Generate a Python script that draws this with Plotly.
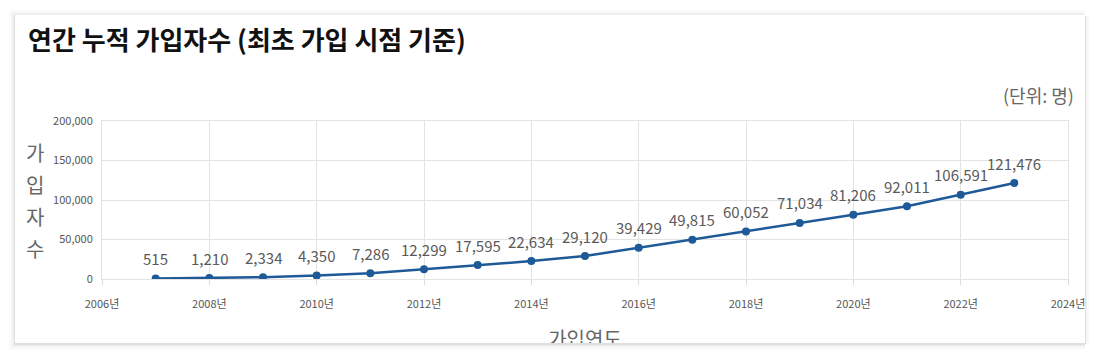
import plotly.graph_objects as go

# ---- data ----
years = [2007, 2008, 2009, 2010, 2011, 2012, 2013, 2014, 2015, 2016,
         2017, 2018, 2019, 2020, 2021, 2022, 2023]
members = [515, 1210, 2334, 4350, 7286, 12299, 17595, 22634, 29120, 39429,
           49815, 60052, 71034, 81206, 92011, 106591, 121476]
x_ticks = [2006, 2008, 2010, 2012, 2014, 2016, 2018, 2020, 2022, 2024]
y_ticks = [0, 50000, 100000, 150000, 200000]
title_text = "연간 누적 가입자수 (최초 가입 시점 기준)"
unit_text = "(단위: 명)"
y_title_chars = ["가", "입", "자", "수"]
x_title = "가입연도"

W, H = 1100, 358
FONT = "Noto Sans CJK KR"
LINE_COLOR = "#1d5a97"
TXT = "#5a5a5a"


def px(x):
    return x / W


def py(y):
    return 1 - y / H


fig = go.Figure()

fig.add_trace(go.Scatter(
    x=years, y=members, mode="lines+markers",
    line=dict(color=LINE_COLOR, width=2.5),
    marker=dict(color=LINE_COLOR, size=8),
    hoverinfo="skip", showlegend=False,
))

# clipped x-axis title drawn on an invisible overlay subplot
fig.add_trace(go.Scatter(
    x=[0.5], y=[0.25], mode="text", text=[x_title],
    textposition="bottom center",
    textfont=dict(family=FONT, size=20, color="#666666"),
    xaxis="x2", yaxis="y2", cliponaxis=True, showlegend=False, hoverinfo="skip",
))

annotations = []
for yr, v in zip(years, members):
    annotations.append(dict(
        x=yr, y=v, xref="x", yref="y", text=f"{v:,}", showarrow=False,
        yshift=20, font=dict(family=FONT, size=15, color=TXT),
    ))

annotations.append(dict(
    x=px(26), y=py(38), xref="paper", yref="paper", xanchor="left", yanchor="middle",
    text=f"<b>{title_text}</b>", showarrow=False,
    font=dict(family=FONT, size=26, color="#111111"),
))
annotations.append(dict(
    x=px(1076), y=py(95), xref="paper", yref="paper", xanchor="right", yanchor="middle",
    text=unit_text, showarrow=False,
    font=dict(family=FONT, size=18, color="#666666"),
))
for i, ch in enumerate(y_title_chars):
    annotations.append(dict(
        x=px(35), y=py(152 + 32 * i), xref="paper", yref="paper",
        xanchor="center", yanchor="middle", text=ch, showarrow=False,
        font=dict(family=FONT, size=20, color="#666666"),
    ))

shapes = []
# card shadow
for k, op in [(6, 0.015), (4, 0.025), (2, 0.04), (1, 0.05)]:
    shapes.append(dict(
        type="rect", xref="paper", yref="paper", layer="below",
        x0=px(15 - k), x1=px(1085 + k), y0=py(343 + k + 1), y1=py(15 - k + 1),
        fillcolor=f"rgba(0,0,0,{op})", line=dict(width=0),
    ))
shapes.append(dict(
    type="rect", xref="paper", yref="paper", layer="below",
    x0=px(15), x1=px(1085), y0=py(343), y1=py(15),
    fillcolor="white", line=dict(width=0),
))
# right-edge cover (clips labels at card edge)
shapes.append(dict(
    type="rect", xref="paper", yref="paper", layer="above",
    x0=px(1085), x1=px(1100), y0=0, y1=1,
    fillcolor="white", line=dict(width=0),
))
for k, op in [(1, 0.06), (2, 0.04), (4, 0.02)]:
    shapes.append(dict(
        type="rect", xref="paper", yref="paper", layer="above",
        x0=px(1085), x1=px(1085 + k), y0=py(343 + 1), y1=py(15 + 1),
        fillcolor=f"rgba(0,0,0,{op})", line=dict(width=0),
    ))

fig.update_layout(
    width=W, height=H, autosize=False,
    margin=dict(l=0, r=0, t=0, b=0, pad=0),
    paper_bgcolor="white", plot_bgcolor="white",
    font=dict(family=FONT, color=TXT),
    showlegend=False,
    annotations=annotations,
    shapes=shapes,
    xaxis=dict(
        domain=[px(102), px(1068)], range=[2006, 2024],
        tickvals=x_ticks, ticktext=[f"{t}년" for t in x_ticks],
        showgrid=True, gridcolor="#e3e3e3", gridwidth=1,
        showline=True, linecolor="#e3e3e3", mirror=True,
        ticks="outside", ticklen=5, tickcolor="#dddddd",
        tickfont=dict(family=FONT, size=11, color="#555555"),
        ticklabelstandoff=10, zeroline=False, fixedrange=True, automargin=False,
    ),
    yaxis=dict(
        domain=[py(279), py(121)], range=[0, 200000],
        tickvals=y_ticks, tickformat=",d",
        showgrid=True, gridcolor="#e3e3e3", gridwidth=1,
        showline=True, linecolor="#e3e3e3", mirror=True,
        ticks="", tickfont=dict(family=FONT, size=11, color="#555555"),
        ticklabelstandoff=6, zeroline=False, fixedrange=True, automargin=False,
    ),
    xaxis2=dict(domain=[px(102), px(1068)], range=[0, 1], visible=False,
                anchor="y2", fixedrange=True, automargin=False),
    yaxis2=dict(domain=[py(343), py(300)], range=[0, 1], visible=False,
                anchor="x2", fixedrange=True, automargin=False),
)

fig.write_html(
    "out.html",
    config={"displayModeBar": False},
    post_script="document.body.style.margin='0';document.body.style.overflow='hidden';",
)
